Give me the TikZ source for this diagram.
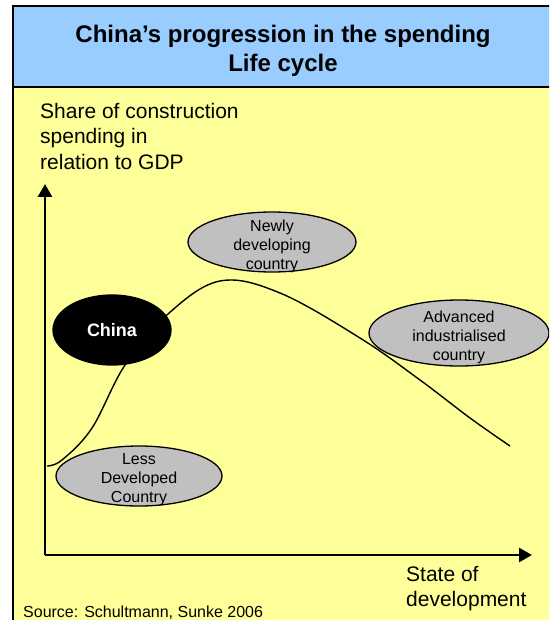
\documentclass[tikz,border=0pt]{standalone}
\usepackage{fontspec}
\setmainfont{Liberation Sans}
\usetikzlibrary{shapes.geometric,arrows.meta}
\definecolor{titleblue}{HTML}{99CCFF}
\definecolor{paleyellow}{HTML}{FFFF99}
\definecolor{bubblegray}{HTML}{C0C0C0}
\begin{document}
\begin{tikzpicture}[
	x=1pt, y=-1pt,
	bubble/.style={ellipse, draw=black, line width=1.3pt, fill=bubblegray, inner sep=0pt},
	bubbletext/.style={align=center, inner sep=0pt, yshift=-4pt, font=\fontsize{16}{19}\selectfont},
	china/.style={bubble, fill=black, text=white, font=\fontsize{18}{20}\bfseries},
	axis/.style={line width=2.8pt, -{Triangle[length=13pt, width=14pt]}},
	axislabel/.style={align=left, anchor=north west, inner sep=0pt, font=\fontsize{21}{25.5}\selectfont},
]
\clip (0,0) rectangle (549,620);
\fill[white] (0,0) rectangle (549,620);
\fill[paleyellow] (13,87) rectangle (560,630);
\fill[titleblue] (13,6) rectangle (560,87);
\draw[line width=1.5pt] (13,87) -- (560,87);
\draw[line width=2pt] (560,6) -- (13,6) -- (13,630);
\node (title) at (283,51) [align=center, font=\fontsize{24}{29.5}\bfseries] {China’s progression in the spending\\Life cycle};
\node (ylabel) at (40,103) [axislabel] {Share of construction\\spending in\\relation to GDP};
\node (xlabel) at (406,566) [axislabel] {State of\\development};
\node (source) at (23,606) [anchor=north west, inner sep=0pt, font=\fontsize{16}{18}\selectfont] {Source: Schultmann, Sunke 2006};
\coordinate (origin) at (45,555);
\coordinate (ytip) at (45,184);
\coordinate (xtip) at (532,555);
\draw[axis] (origin) -- (ytip);
\draw[axis] (origin) -- (xtip);
\draw[line width=1.4pt] plot[smooth, tension=0.6] coordinates {(47,466) (62,460) (92,428) (125,365) (168,314) (220,281) (280,293) (360,338) (420,380) (470,418) (510,446)};
\node (less) at (139,476) [bubble, minimum width=166pt, minimum height=60pt,
	label={[bubbletext]center:Less\\Developed\\Country}] {};
\node (china) at (112,330) [china, minimum width=118pt, minimum height=70pt] {China};
\node (newly) at (272,242) [bubble, minimum width=168pt, minimum height=60pt,
	label={[bubbletext]center:Newly\\developing\\country}] {};
\node (advanced) at (459,333) [bubble, minimum width=180pt, minimum height=66pt,
	label={[bubbletext]center:Advanced\\industrialised\\country}] {};
\end{tikzpicture}
\end{document}
